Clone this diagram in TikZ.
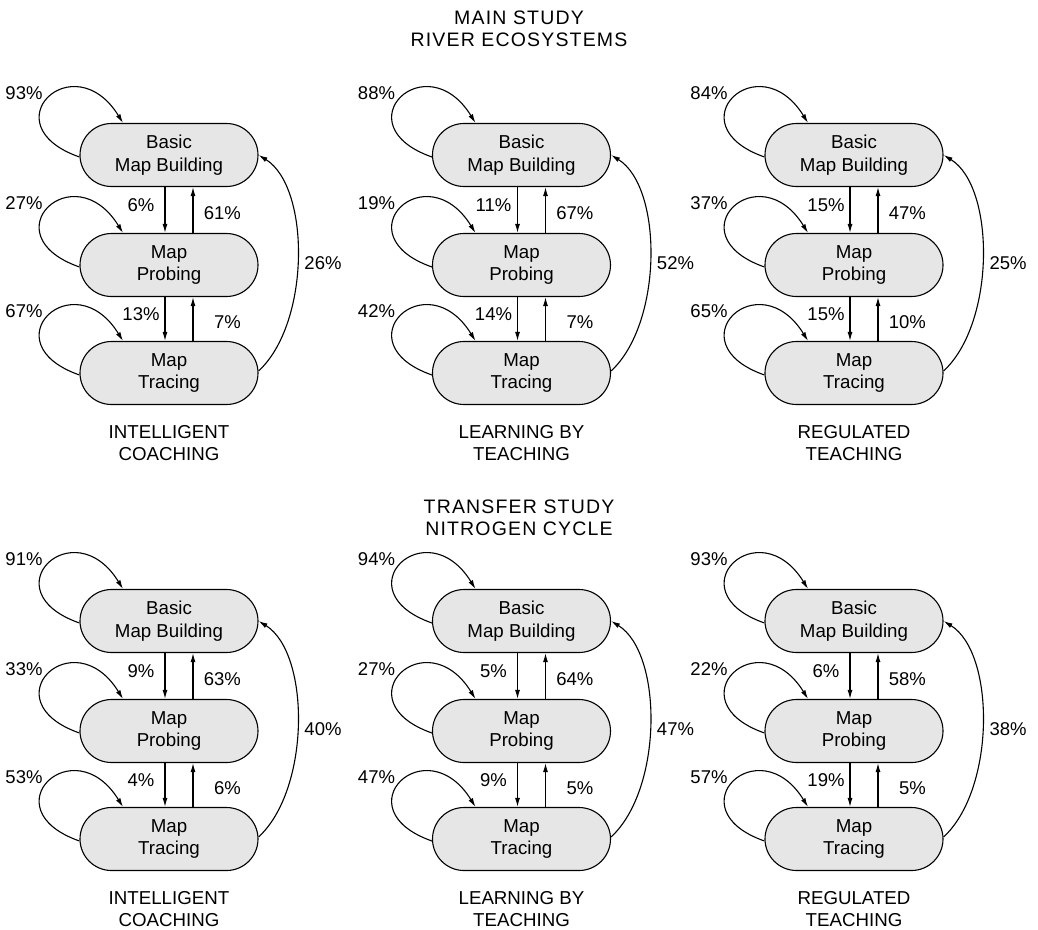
\documentclass[tikz,border=0pt]{standalone}
\usepackage{fontspec}
\setmainfont{Liberation Sans}
\newfontfamily\titlefont[LetterSpace=6]{Liberation Sans}
\usetikzlibrary{shapes.misc,arrows.meta,calc}
\definecolor{boxfill}{RGB}{230,230,230}
\begin{document}
\begin{tikzpicture}[x=1pt,y=-1pt,
  state/.style={rounded rectangle, draw, line width=1.1pt, fill=boxfill,
    minimum width=178pt, minimum height=63pt, inner sep=0pt, align=center,
    font=\fontsize{18.7}{22.7}\selectfont},
  pct/.style={font=\fontsize{18.5}{22}\selectfont, inner sep=0pt},
  captiontext/.style={align=center, font=\fontsize{18.7}{22}\selectfont, inner sep=0pt},
  titletext/.style={align=center, font=\titlefont\fontsize{19.5}{21.7}\selectfont, inner sep=0pt},
  conn/.style={line width=1.1pt, -{Latex[length=9pt,width=5pt]}},
]
\useasboundingbox (0,0) rectangle (1038,929);

\node[titletext] (t1) at (519,29) {MAIN STUDY\\RIVER ECOSYSTEMS};
\node[titletext] (t2) at (519,518) {TRANSFER STUDY\\NITROGEN CYCLE};

\foreach \p/\x/\y/\cap/\la/\lb/\lc/\da/\ua/\db/\ub/\lg in {
  a/169/155/{INTELLIGENT\\COACHING}/93/27/67/6/61/13/7/26,
  b/521.5/155/{LEARNING BY\\TEACHING}/88/19/42/11/67/14/7/52,
  c/854/155/{REGULATED\\TEACHING}/84/37/65/15/47/15/10/25,
  d/169/621/{INTELLIGENT\\COACHING}/91/33/53/9/63/4/6/40,
  e/521.5/621/{LEARNING BY\\TEACHING}/94/27/47/5/64/9/5/47,
  f/854/621/{REGULATED\\TEACHING}/93/22/57/6/58/19/5/38}{
  % nodes
  \node[state] (\p1) at (\x,\y) {Basic\\Map Building};
  \node[state] (\p2) at (\x,\y+110) {Map\\Probing};
  \node[state] (\p3) at (\x,\y+218) {Map\\Tracing};
  % self loops
  \foreach \k/\v in {1/\la,2/\lb,3/\lc}{
    \draw[conn] ([yshift=-2pt]\p\k.west) .. controls ($(\p\k.west)+(-91,-30)$) and ($(\p\k.west)+(-6,-112)$) .. ([xshift=-46pt]\p\k.north);
    \node[pct] (\p l\k) at ($(\p\k.center)+(-145,-62)$) {\v\%};
  }
  % vertical arrows
  \draw[conn] ([xshift=-4pt]\p1.south) -- ([xshift=-4pt]\p2.north);
  \draw[conn] ([xshift=24pt]\p2.north) -- ([xshift=24pt]\p1.south);
  \draw[conn] ([xshift=-4pt]\p2.south) -- ([xshift=-4pt]\p3.north);
  \draw[conn] ([xshift=24pt]\p3.north) -- ([xshift=24pt]\p2.south);
  \node[pct] (\p da) at ($(\p1.center)+(-28,50)$) {\da\%};
  \node[pct,anchor=east] (\p ua) at ($(\p1.center)+(72,58)$) {\ua\%};
  \node[pct] (\p db) at ($(\p2.center)+(-28,49)$) {\db\%};
  \node[pct,anchor=east] (\p ub) at ($(\p2.center)+(72,57)$) {\ub\%};
  % long return arc
  \draw[conn] ([yshift=2pt]\p3.east) .. controls ($(\p3.east)+(52,-50)$) and ($(\p1.east)+(52,32)$) .. (\p1.east);
  \node[pct] (\p lg) at ($(\p2.center)+(154,-2)$) {\lg\%};
  % caption
  \node[captiontext] (\p cap) at ($(\p3.center)+(0,70)$) {\cap};
}
\end{tikzpicture}
\end{document}
